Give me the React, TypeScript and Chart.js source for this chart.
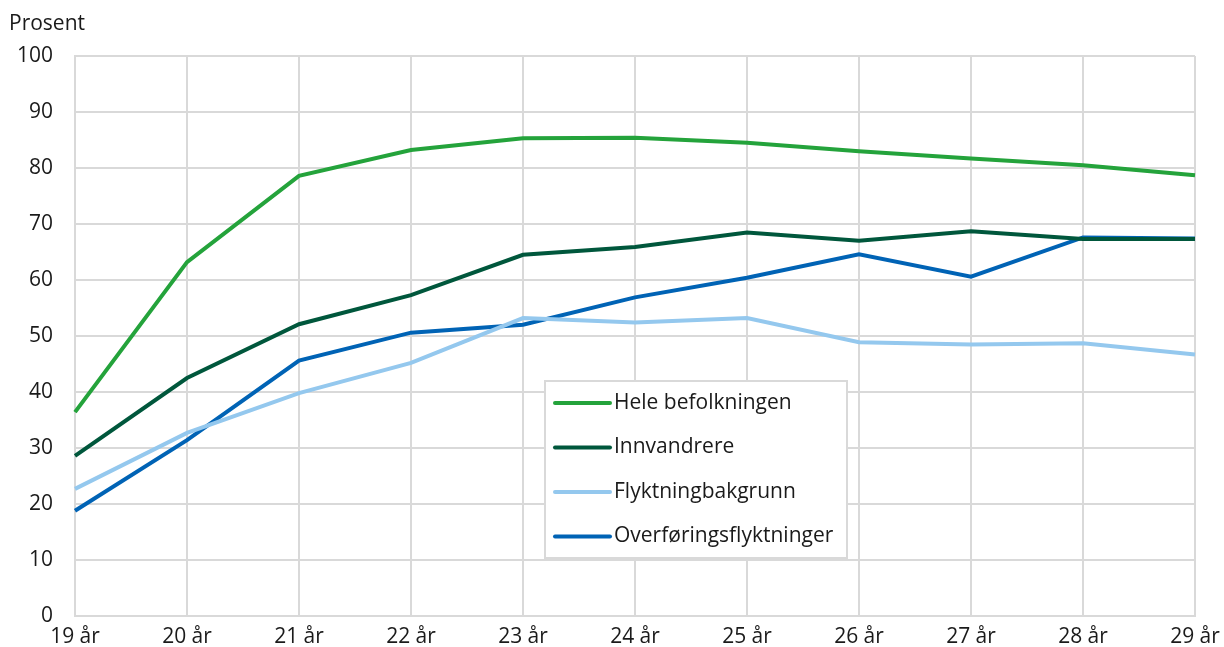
import React, { useEffect, useRef } from "react";
import { Chart, registerables } from "chart.js";

Chart.register(...registerables);

const categories = ["19 år", "20 år", "21 år", "22 år", "23 år", "24 år", "25 år", "26 år", "27 år", "28 år", "29 år"];
const heleBefolkningen = [36.4, 63.2, 78.6, 83.2, 85.3, 85.4, 84.5, 83.0, 81.7, 80.5, 78.7];
const innvandrere = [28.6, 42.5, 52.1, 57.3, 64.5, 65.9, 68.5, 67.0, 68.7, 67.3, 67.3];
const flyktningbakgrunn = [22.7, 32.7, 39.8, 45.2, 53.2, 52.4, 53.2, 48.9, 48.5, 48.7, 46.7];
const overforingsflyktninger = [18.8, 31.4, 45.6, 50.6, 52.0, 56.9, 60.4, 64.6, 60.6, 67.6, 67.4];
const seriesNames = ["Hele befolkningen", "Innvandrere", "Flyktningbakgrunn", "Overføringsflyktninger"];
const seriesColors = ["#24a33b", "#00573c", "#94c8ee", "#0063b5"];

const FONT = "'Open Sans', sans-serif";

const overlayPlugin = {
  id: "overlay",
  afterDraw(chart: any) {
    const ctx = chart.ctx;
    const area = chart.chartArea;
    ctx.save();
    ctx.fillStyle = "#1a1a1a";
    ctx.font = `21px ${FONT}`;
    ctx.textBaseline = "middle";
    ctx.textAlign = "left";
    ctx.fillText("Prosent", 9, 24);
    const bx = area.left + 470;
    const by = 381;
    const bw = 302;
    const bh = 177;
    ctx.fillStyle = "#ffffff";
    ctx.fillRect(bx, by, bw, bh);
    ctx.strokeStyle = "#d9d9d9";
    ctx.lineWidth = 2;
    ctx.strokeRect(bx, by, bw, bh);
    chart.data.datasets.forEach((ds: any, i: number) => {
      const y = by + 22 + i * 44.5;
      ctx.strokeStyle = ds.borderColor;
      ctx.lineWidth = 4;
      ctx.lineCap = "round";
      ctx.beginPath();
      ctx.moveTo(bx + 10, y);
      ctx.lineTo(bx + 65, y);
      ctx.stroke();
      ctx.fillStyle = "#1a1a1a";
      ctx.font = `21px ${FONT}`;
      ctx.fillText(ds.label, bx + 69, y);
    });
    ctx.restore();
  },
};

export default function App() {
  const ref = useRef<HTMLCanvasElement>(null);
  useEffect(() => {
    document.body.style.margin = "0";
    const seriesData = [heleBefolkningen, innvandrere, flyktningbakgrunn, overforingsflyktninger];
    const chart = new Chart(ref.current!, {
      type: "line",
      data: {
        labels: categories,
        datasets: seriesNames.map((name, i) => ({
          label: name,
          data: seriesData[i],
          borderColor: seriesColors[i],
          backgroundColor: seriesColors[i],
          borderWidth: 4,
          pointRadius: 0,
          tension: 0,
          fill: false,
        })),
      },
      options: {
        animation: false,
        responsive: false,
        layout: { padding: { left: 8, right: 29, top: 56, bottom: 0 } },
        plugins: {
          legend: { display: false },
          tooltip: { enabled: false },
        },
        scales: {
          x: {
            offset: false,
            grid: { color: "#d9d9d9", lineWidth: 2, drawTicks: false },
            border: { color: "#d9d9d9", width: 2 },
            ticks: { color: "#1a1a1a", font: { family: FONT, size: 21 }, padding: 8, maxRotation: 0, autoSkip: false },
            afterFit: (s: any) => {
              s.height = 31;
              s.paddingLeft = 0;
              s.paddingRight = 0;
            },
          },
          y: {
            min: 0,
            max: 100,
            grid: { color: "#d9d9d9", lineWidth: 2, drawTicks: false },
            border: { color: "#d9d9d9", width: 2 },
            ticks: { stepSize: 10, color: "#1a1a1a", font: { family: FONT, size: 21 }, padding: 22 },
            afterFit: (s: any) => {
              s.width = 67;
              s.paddingTop = 0;
              s.paddingBottom = 0;
            },
          },
        },
      },
      plugins: [overlayPlugin],
    });
    return () => chart.destroy();
  }, []);
  return (
    <div style={{ width: 1224, height: 647 }}>
      <canvas ref={ref} width={1224} height={647} style={{ display: "block" }} />
    </div>
  );
}
